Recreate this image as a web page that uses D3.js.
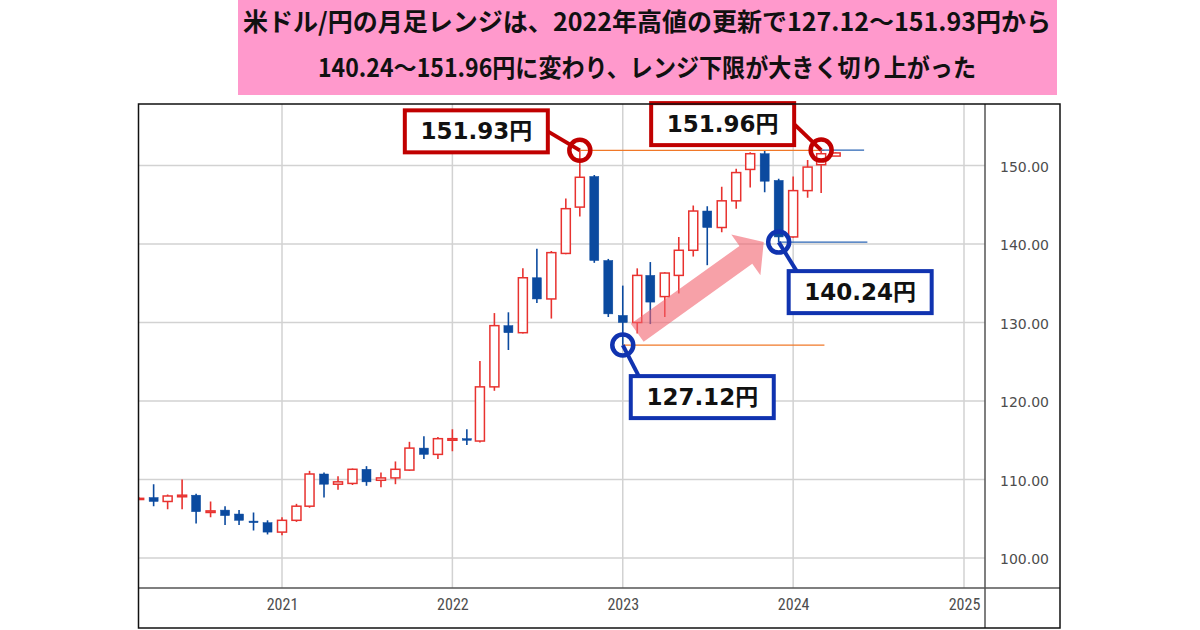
<!DOCTYPE html>
<html>
<head>
<meta charset="utf-8">
<script src="https://cdn.jsdelivr.net/npm/d3@7"></script>
<style>
body { margin: 0; background: #fff; }
svg { display: block; }
</style>
</head>
<body>
<svg width="1200" height="630"></svg>
<script>
// monthly USD/JPY candles
var months = ["2020-03","2020-04","2020-05","2020-06","2020-07","2020-08","2020-09","2020-10","2020-11","2020-12",
              "2021-01","2021-02","2021-03","2021-04","2021-05","2021-06","2021-07","2021-08","2021-09","2021-10","2021-11","2021-12",
              "2022-01","2022-02","2022-03","2022-04","2022-05","2022-06","2022-07","2022-08","2022-09","2022-10","2022-11","2022-12",
              "2023-01","2023-02","2023-03","2023-04","2023-05","2023-06","2023-07","2023-08","2023-09","2023-10","2023-11","2023-12",
              "2024-01","2024-02","2024-03","2024-04"];
var opens  = [107.45,107.7,107.2,107.8,108.0,105.8,106.1,105.6,104.7,104.5,
              103.3,104.8,106.6,110.7,109.4,109.5,111.3,109.9,110.2,111.2,114.0,113.2,
              115.0,115.2,114.9,121.8,129.6,128.7,135.7,133.0,138.8,144.7,148.6,137.9,
              130.9,130.0,136.0,133.3,136.0,139.2,144.2,142.1,145.5,149.5,151.5,148.1,
              140.9,146.8,150.1,151.2];
var highs  = [107.7,109.4,108.1,110.0,108.2,107.2,106.6,106.1,105.8,104.8,
              105.2,106.9,111.1,110.9,110.4,111.4,111.7,110.9,112.3,114.8,115.5,115.4,
              116.4,116.4,125.1,131.2,131.3,136.9,139.4,139.1,145.8,151.93,148.8,138.1,
              134.7,136.9,137.7,136.4,140.9,144.9,144.8,147.3,149.6,151.7,151.9,148.3,
              148.6,150.7,151.96,151.7];
var lows   = [107.4,106.6,106.2,106.2,104.4,105.2,104.2,104.2,103.5,103.0,
              102.9,104.6,106.4,107.7,108.7,109.3,109.2,109.0,109.4,111.1,112.6,112.6,
              113.6,114.4,114.7,121.3,126.5,128.6,132.5,130.5,138.7,143.5,137.6,130.7,
              127.12,128.6,129.8,130.7,133.7,138.4,137.3,141.5,144.5,147.2,146.6,140.24,
              140.8,145.9,146.5,151.2];
var closes = [107.6,107.2,107.9,108.0,105.9,106.0,105.4,104.8,104.5,103.3,
              104.8,106.6,110.7,109.4,109.7,111.3,109.7,110.2,111.3,114.0,113.2,115.2,
              115.2,115.0,121.8,129.6,128.7,135.7,133.0,138.9,144.5,148.5,137.9,131.1,
              130.0,136.0,132.6,136.3,139.2,144.2,142.1,145.5,149.1,151.5,148.0,140.9,
              146.8,149.8,151.5,151.6];

var yTicks = [100, 110, 120, 130, 140, 150];
var xTicks = ["2021", "2022", "2023", "2024", "2025"];

var titleLines = ["米ドル/円の月足レンジは、2022年高値の更新で127.12～151.93円から",
                  "140.24～151.96円に変わり、レンジ下限が大きく切り上がった"];

// range lines: start, end, level
var lineStarts = ["2022-10-01", "2024-03-01", "2023-01-01", "2023-12-01"];
var lineEnds   = ["2024-03-08", "2024-06-01", "2024-03-08", "2024-06-08"];
var lineLevels = [151.93, 151.96, 127.12, 140.24];

// highs and lows that get a circle + label
var markDates  = ["2022-10-01", "2024-03-01", "2023-01-01", "2023-12-01"];
var markLevels = [151.93, 151.96, 127.12, 140.24];
var markLabels = ["151.93円", "151.96円", "127.12円", "140.24円"];

var RED = "#e8322f", BLUE = "#0b4a9f";
var DARKRED = "#c00000", DARKBLUE = "#1033b0";
var ORANGE = "#f07828", LINEBLUE = "#2a64b4";

var parseMonth = d3.timeParse("%Y-%m");
var parseDay = d3.timeParse("%Y-%m-%d");

var candles = months.map(function(m, i) {
    return {date: parseMonth(m), o: opens[i], h: highs[i], l: lows[i], c: closes[i]};
});

var svg = d3.select("svg");

var frameL = 138.5, frameT = 104, plotR = 985, plotB = 588, frameR = 1060, frameB = 628;

var x = d3.scaleTime()
    .domain([new Date(2021, 0, 1), new Date(2025, 0, 1)])
    .range([282, 964]);
var y = d3.scaleLinear()
    .domain([100, 150])
    .range([558, 165.5]);

// title box
svg.append("rect")
    .attr("x", 238).attr("y", 0)
    .attr("width", 819).attr("height", 95)
    .attr("fill", "#ff99cc");

var titleWidths = [808, 658];
svg.selectAll("text.title")
    .data(titleLines)
    .enter().append("text")
    .attr("class", "title")
    .attr("x", 647)
    .attr("y", function(d, i) { return 31 + i * 46; })
    .attr("text-anchor", "middle")
    .attr("textLength", function(d, i) { return titleWidths[i]; })
    .attr("lengthAdjust", "spacingAndGlyphs")
    .style("font-family", "'Noto Sans CJK JP', sans-serif")
    .style("font-weight", "bold")
    .style("font-size", "25px")
    .style("fill", "#111")
    .text(function(d) { return d; });

svg.append("clipPath").attr("id", "plot")
    .append("rect")
    .attr("x", frameL).attr("y", frameT)
    .attr("width", plotR - frameL).attr("height", plotB - frameT);

// grid
var grid = svg.append("g").attr("clip-path", "url(#plot)");
grid.selectAll("line.h")
    .data(yTicks)
    .enter().append("line")
    .attr("class", "h")
    .attr("x1", frameL).attr("x2", plotR)
    .attr("y1", function(d) { return y(d); })
    .attr("y2", function(d) { return y(d); })
    .style("stroke", "#d2d2d2")
    .style("stroke-width", 1.5);
grid.selectAll("line.v")
    .data(xTicks)
    .enter().append("line")
    .attr("class", "v")
    .attr("x1", function(d) { return x(new Date(+d, 0, 1)); })
    .attr("x2", function(d) { return x(new Date(+d, 0, 1)); })
    .attr("y1", frameT).attr("y2", plotB)
    .style("stroke", "#d2d2d2")
    .style("stroke-width", 1.5);

// candles
var bodyW = 9;
var cg = svg.append("g").attr("clip-path", "url(#plot)");
var candle = cg.selectAll("g.candle")
    .data(candles)
    .enter().append("g")
    .attr("class", "candle");

candle.append("line")
    .attr("x1", function(d) { return x(d.date); })
    .attr("x2", function(d) { return x(d.date); })
    .attr("y1", function(d) { return y(d.h); })
    .attr("y2", function(d) { return y(d.l); })
    .style("stroke", function(d) { return d.c >= d.o ? RED : BLUE; })
    .style("stroke-width", 1.6);

candle.append("rect")
    .attr("x", function(d) { return x(d.date) - bodyW / 2; })
    .attr("y", function(d) { return y(Math.max(d.o, d.c)); })
    .attr("width", bodyW)
    .attr("height", function(d) { return Math.max(1, Math.abs(y(d.o) - y(d.c))); })
    .style("fill", function(d) { return d.c >= d.o ? "#fff" : BLUE; })
    .style("stroke", function(d) { return d.c >= d.o ? RED : BLUE; })
    .style("stroke-width", function(d) { return d.c >= d.o ? 1.5 : 0.5; });

// arrow from the 2023 low to the 2023 December low
var tail = [x(parseDay("2023-02-01")), y(128.7)];
var tip = [x(parseDay("2023-10-30")), y(140.24)];
var dx = tip[0] - tail[0], dy = tip[1] - tail[1];
var len = Math.sqrt(dx * dx + dy * dy);
var ux = dx / len, uy = dy / len, nx = -uy, ny = ux;
var shaftW = 22, headW = 50, headL = 22;
var base = [tip[0] - ux * headL, tip[1] - uy * headL];
var arrowPts = [
    [tail[0] + nx * shaftW / 2, tail[1] + ny * shaftW / 2],
    [base[0] + nx * shaftW / 2, base[1] + ny * shaftW / 2],
    [base[0] + nx * headW / 2, base[1] + ny * headW / 2],
    tip,
    [base[0] - nx * headW / 2, base[1] - ny * headW / 2],
    [base[0] - nx * shaftW / 2, base[1] - ny * shaftW / 2],
    [tail[0] - nx * shaftW / 2, tail[1] - ny * shaftW / 2]
];
svg.append("path")
    .attr("d", d3.line()(arrowPts) + "Z")
    .style("fill", "#f2626e")
    .style("opacity", 0.6);

// range lines
svg.selectAll("line.range")
    .data(lineLevels)
    .enter().append("line")
    .attr("class", "range")
    .attr("x1", function(d, i) { return x(parseDay(lineStarts[i])); })
    .attr("x2", function(d, i) { return x(parseDay(lineEnds[i])); })
    .attr("y1", function(d) { return y(d); })
    .attr("y2", function(d) { return y(d); })
    .style("stroke", function(d, i) { return i % 2 == 0 ? ORANGE : LINEBLUE; })
    .style("stroke-width", 1.2);

// callouts: box position relative to the circle
var boxDx = [-175, -170, 8, 10];
var boxDy = [-40, -47, 31, 29];
var boxW = 143, boxH = 42, circleR = 10.5;

var mark = svg.selectAll("g.mark")
    .data(markLevels)
    .enter().append("g")
    .attr("class", "mark");

function cx(i) { return x(parseDay(markDates[i])); }
function cy(i) { return y(markLevels[i]); }
function markColor(i) { return i < 2 ? DARKRED : DARKBLUE; }

mark.append("line")
    .attr("x1", function(d, i) { return cx(i); })
    .attr("y1", function(d, i) { return cy(i); })
    .attr("x2", function(d, i) { return i < 2 ? cx(i) + boxDx[i] + boxW : cx(i) + boxDx[i] + 8; })
    .attr("y2", function(d, i) { return i < 2 ? cy(i) + boxDy[i] + boxH / 2 : cy(i) + boxDy[i]; })
    .style("stroke", function(d, i) { return markColor(i); })
    .style("stroke-width", 4);

mark.append("circle")
    .attr("cx", function(d, i) { return cx(i); })
    .attr("cy", function(d, i) { return cy(i); })
    .attr("r", circleR)
    .style("fill", "none")
    .style("stroke", function(d, i) { return markColor(i); })
    .style("stroke-width", 4.5);

mark.append("rect")
    .attr("x", function(d, i) { return cx(i) + boxDx[i]; })
    .attr("y", function(d, i) { return cy(i) + boxDy[i]; })
    .attr("width", boxW)
    .attr("height", boxH)
    .style("fill", "#fff")
    .style("stroke", function(d, i) { return markColor(i); })
    .style("stroke-width", 4);

mark.append("text")
    .attr("x", function(d, i) { return cx(i) + boxDx[i] + boxW / 2; })
    .attr("y", function(d, i) { return cy(i) + boxDy[i] + boxH / 2 + 8; })
    .attr("text-anchor", "middle")
    .style("font-family", "'DejaVu Sans', 'Noto Sans CJK JP', sans-serif")
    .style("font-weight", "bold")
    .style("font-size", "23px")
    .style("fill", "#111")
    .text(function(d, i) { return markLabels[i]; });

// axes
var yAxis = d3.axisRight(y)
    .tickValues(yTicks)
    .tickFormat(d3.format(".2f"))
    .tickSize(0)
    .tickPadding(15);
var ya = svg.append("g")
    .attr("transform", "translate(" + plotR + ",0)")
    .call(yAxis);
ya.select(".domain").remove();
ya.selectAll("text")
    .attr("dy", "0.42em")
    .style("font-family", "'DejaVu Sans', sans-serif")
    .style("font-size", "14px")
    .style("fill", "#4d4d4d");

var xAxis = d3.axisBottom(x)
    .tickValues(xTicks.map(function(d) { return new Date(+d, 0, 1); }))
    .tickFormat(d3.timeFormat("%Y"))
    .tickSize(0)
    .tickPadding(11);
var xa = svg.append("g")
    .attr("transform", "translate(0," + plotB + ")")
    .call(xAxis);
xa.select(".domain").remove();
xa.selectAll("text")
    .style("font-family", "'Liberation Sans Narrow', 'Roboto Condensed', Roboto, sans-serif")
    .style("font-size", "16px")
    .style("fill", "#4d4d4d");

// frame
svg.append("line")
    .attr("x1", plotR).attr("x2", plotR)
    .attr("y1", frameT).attr("y2", frameB)
    .style("stroke", "#555").style("stroke-width", 1.5);
svg.append("line")
    .attr("x1", frameL).attr("x2", frameR)
    .attr("y1", plotB).attr("y2", plotB)
    .style("stroke", "#555").style("stroke-width", 1.5);
svg.append("rect")
    .attr("x", frameL).attr("y", frameT)
    .attr("width", frameR - frameL).attr("height", frameB - frameT)
    .style("fill", "none")
    .style("stroke", "#111")
    .style("stroke-width", 1.5);
</script>
</body>
</html>
